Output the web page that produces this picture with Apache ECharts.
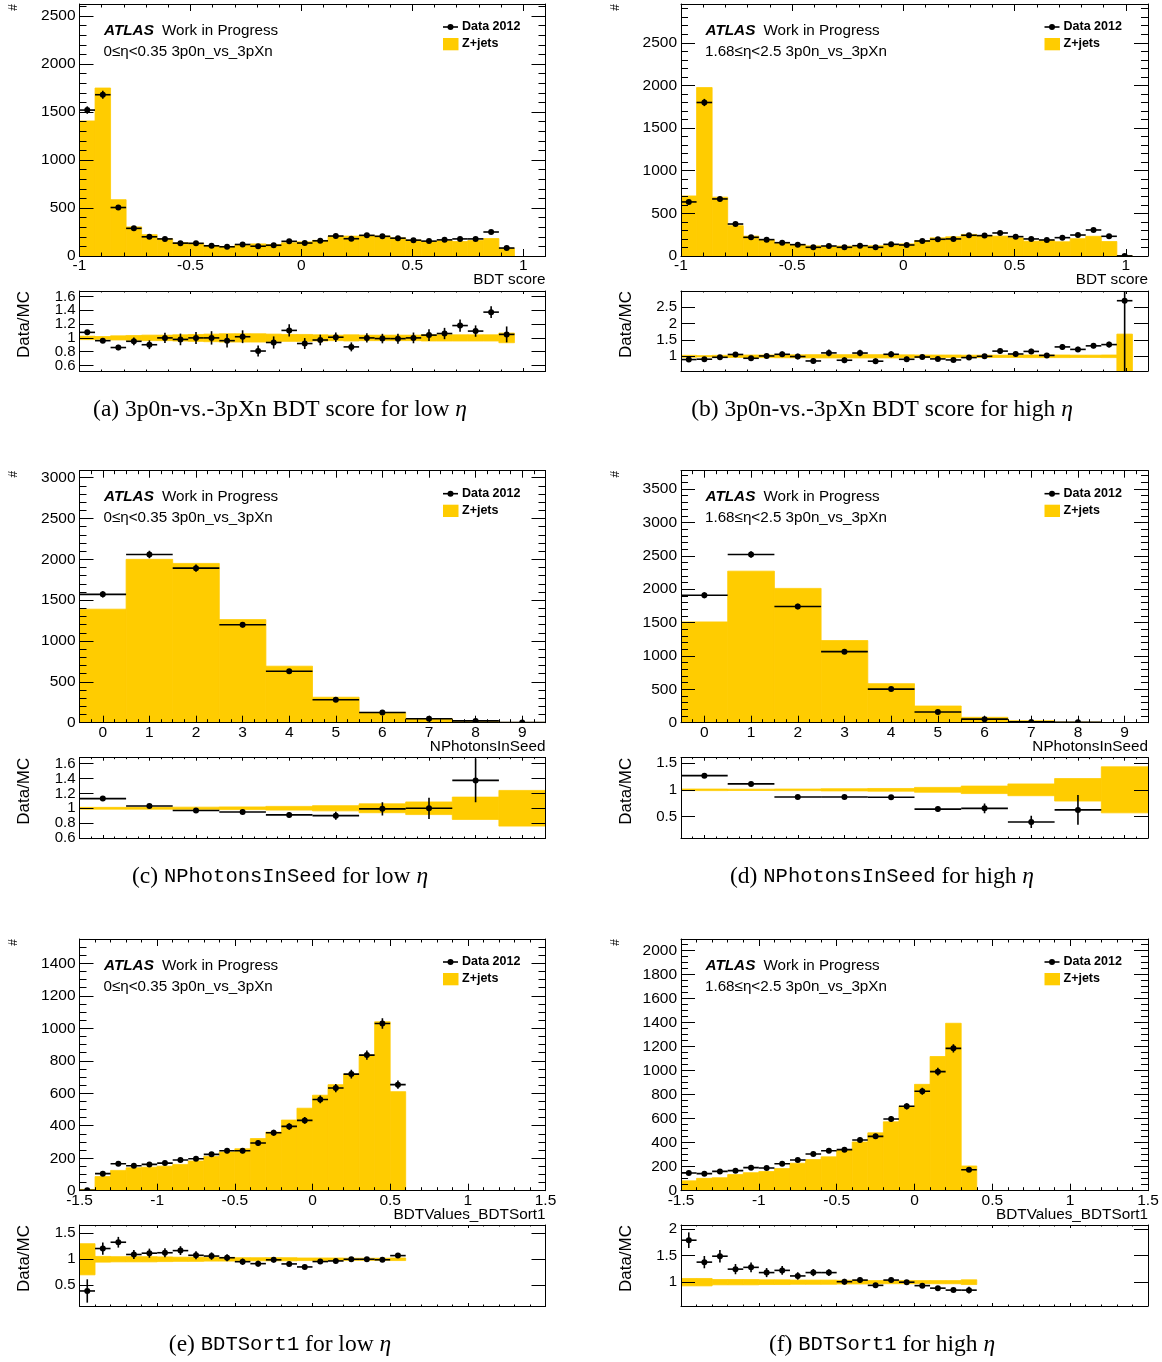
<!DOCTYPE html>
<html>
<head>
<meta charset="utf-8">
<script src="https://cdn.jsdelivr.net/npm/echarts@6/dist/echarts.min.js"></script>
<style>
  html, body { margin: 0; padding: 0; background: #fff; }
  #chart { width: 1162px; height: 1362px; }
</style>
</head>
<body>
<div id="chart"></div>
<script>
// ---------------------------------------------------------------------------
// Histogram contents (event counts per bin)
// ---------------------------------------------------------------------------

// (a) 3p0n-vs-3pXn BDT score, 0 <= eta < 0.35 : 30 bins of 0.07 from -1
const bdtLowData = [1520, 1680, 505, 288, 200, 178, 134, 132, 106, 96, 120, 102, 112, 153, 135,
                    158, 208, 180, 215, 205, 186, 165, 155, 168, 178, 178, 250, 83, 0, 0];
const bdtLowMC   = [1407, 1750, 587, 303, 222, 178, 137, 132, 106, 100, 118, 126, 120, 138, 147,
                    163, 206, 207, 215, 207, 188, 165, 149, 158, 151, 162, 182, 79, 0, 0];
const bdtLowMCRelErr = [0.025, 0.02, 0.03, 0.035, 0.04, 0.04, 0.045, 0.05, 0.055, 0.06, 0.06, 0.06, 0.055, 0.05, 0.05,
                        0.045, 0.04, 0.045, 0.04, 0.04, 0.04, 0.04, 0.045, 0.045, 0.045, 0.045, 0.045, 0.07, 0, 0];

// (b) 3p0n-vs-3pXn BDT score, 1.68 <= eta < 2.5
const bdtHighData = [634, 1800, 669, 375, 219, 192, 156, 133, 102, 117, 102, 121, 102, 137, 129,
                     176, 196, 200, 243, 239, 270, 227, 200, 188, 215, 246, 305, 231, 1, 0];
const bdtHighMC   = [704, 1975, 690, 355, 233, 190, 147, 134, 119, 106, 116, 110, 120, 129, 142,
                     180, 213, 225, 253, 239, 233, 212, 174, 183, 167, 203, 231, 170, 0.37, 0];
const bdtHighMCRelErr = [0.03, 0.02, 0.03, 0.035, 0.04, 0.04, 0.045, 0.045, 0.05, 0.05, 0.05, 0.05, 0.05, 0.05, 0.045,
                         0.04, 0.04, 0.04, 0.035, 0.035, 0.035, 0.035, 0.04, 0.04, 0.04, 0.035, 0.035, 0.04, 0.68, 0];

// (c) NPhotonsInSeed, low eta : integer bins 0..9
const nphLowData = [1571, 2060, 1892, 1199, 630, 281, 125, 49, 22, 1];
const nphLowMC   = [1390, 2000, 1950, 1262, 692, 312, 126, 49, 16, 4];
const nphLowMCRelErr = [0.012, 0.012, 0.015, 0.018, 0.025, 0.035, 0.06, 0.085, 0.15, 0.24];

// (d) NPhotonsInSeed, high eta
const nphHighData = [1909, 2520, 1740, 1064, 503, 160, 53, 12, 5, 0];
const nphHighMC   = [1510, 2270, 2012, 1230, 585, 250, 81, 30, 8, 2];
const nphHighMCRelErr = [0.015, 0.012, 0.015, 0.02, 0.025, 0.045, 0.07, 0.11, 0.21, 0.43];

// (e) BDTValues_BDTSort1, low eta : 30 bins of 0.1 from -1.5
const sortLowData = [3, 105, 166, 154, 162, 170, 189, 197, 224, 246, 246, 294, 357, 396, 433,
                     562, 632, 718, 835, 1030, 653, 0, 0, 0, 0, 0, 0, 0, 0, 0];
const sortLowMC   = [7.7, 87, 125, 141, 145, 151, 162, 183, 211, 239, 258, 321, 361, 435, 508,
                     588, 653, 718, 835, 1040, 610, 0, 0, 0, 0, 0, 0, 0, 0, 0];
const sortLowMCRelErr = [0.3, 0.055, 0.05, 0.05, 0.05, 0.045, 0.04, 0.04, 0.035, 0.035, 0.03, 0.03, 0.03, 0.03, 0.025,
                         0.025, 0.025, 0.02, 0.02, 0.02, 0.025, 0, 0, 0, 0, 0, 0, 0, 0, 0];

// (f) BDTValues_BDTSort1, high eta
const sortHighData = [147, 142, 161, 167, 192, 189, 225, 256, 306, 333, 342, 422, 453, 597, 703,
                      828, 992, 1186, 175, 0, 0, 0, 0, 0, 0, 0, 0, 0, 0, 0];
const sortHighMC   = [82, 103, 108, 134, 150, 160, 184, 229, 259, 282, 339, 406, 482, 574, 703,
                      886, 1118, 1395, 206, 0, 0, 0, 0, 0, 0, 0, 0, 0, 0, 0];
const sortHighMCRelErr = [0.07, 0.07, 0.05, 0.05, 0.05, 0.045, 0.045, 0.04, 0.04, 0.04, 0.035, 0.035, 0.03, 0.03, 0.03,
                          0.03, 0.03, 0.03, 0.045, 0, 0, 0, 0, 0, 0, 0, 0, 0, 0, 0];

// Text
const lowEtaLabel = '0\u2264\u03b7<0.35 3p0n_vs_3pXn';
const highEtaLabel = '1.68\u2264\u03b7<2.5 3p0n_vs_3pXn';
const legendData = 'Data 2012';
const legendMC = 'Z+jets';

// ---------------------------------------------------------------------------
// Styling / layout
// ---------------------------------------------------------------------------
const SANS = '"Liberation Sans", Arial, Helvetica, sans-serif';
const SERIF = '"Liberation Serif", "Times New Roman", serif';
const MONO = '"Liberation Mono", "DejaVu Sans Mono", monospace';
const YELLOW = '#ffcc00';

const colLeft = [79.5, 681];
const colWidth = [466, 467];
const mainTop = [4, 470.7, 939];
const mainHeight = [252, 252, 251.7];
const ratioTop = [291, 757.7, 1225];
const ratioHeight = [80, 80.3, 81];
const captionY = [410, 877, 1345];
const captionX = [280, 882];

const panels = [
  { row: 0, col: 0, binLow: -1, binWidth: 0.07, data: bdtLowData, mc: bdtLowMC, mcErr: bdtLowMCRelErr,
    x: { min: -1, max: 1.1, step: 0.5, minor: 5 }, y: { max: 2625, step: 500, minor: 5 },
    r: { min: 0.52, max: 1.68, step: 0.2 }, xTitle: 'BDT score', region: lowEtaLabel,
    caption: '(a) 3p0n-vs.-3pXn BDT score for low {i|\u03b7}' },
  { row: 0, col: 1, binLow: -1, binWidth: 0.07, data: bdtHighData, mc: bdtHighMC, mcErr: bdtHighMCRelErr,
    x: { min: -1, max: 1.1, step: 0.5, minor: 5 }, y: { max: 2955, step: 500, minor: 5 },
    r: { min: 0.55, max: 3.0, step: 0.5 }, xTitle: 'BDT score', region: highEtaLabel,
    caption: '(b) 3p0n-vs.-3pXn BDT score for high {i|\u03b7}' },
  { row: 1, col: 0, binLow: -0.5, binWidth: 1, data: nphLowData, mc: nphLowMC, mcErr: nphLowMCRelErr,
    x: { min: -0.5, max: 9.5, step: 1, minor: 4 }, y: { max: 3085, step: 500, minor: 5 },
    r: { min: 0.6, max: 1.68, step: 0.2 }, xTitle: 'NPhotonsInSeed', region: lowEtaLabel,
    caption: '(c) {m|NPhotonsInSeed} for low {i|\u03b7}' },
  { row: 1, col: 1, binLow: -0.5, binWidth: 1, data: nphHighData, mc: nphHighMC, mcErr: nphHighMCRelErr,
    x: { min: -0.5, max: 9.5, step: 1, minor: 4 }, y: { max: 3775, step: 500, minor: 5 },
    r: { min: 0.1, max: 1.6, step: 0.5 }, xTitle: 'NPhotonsInSeed', region: highEtaLabel,
    caption: '(d) {m|NPhotonsInSeed} for high {i|\u03b7}' },
  { row: 2, col: 0, binLow: -1.5, binWidth: 0.1, data: sortLowData, mc: sortLowMC, mcErr: sortLowMCRelErr,
    x: { min: -1.5, max: 1.5, step: 0.5, minor: 5 }, y: { max: 1550, step: 200, minor: 4 },
    r: { min: 0.1, max: 1.66, step: 0.5 }, xTitle: 'BDTValues_BDTSort1', region: lowEtaLabel,
    caption: '(e) {m|BDTSort1} for low {i|\u03b7}' },
  { row: 2, col: 1, binLow: -1.5, binWidth: 0.1, data: sortHighData, mc: sortHighMC, mcErr: sortHighMCRelErr,
    x: { min: -1.5, max: 1.5, step: 0.5, minor: 5 }, y: { max: 2097, step: 200, minor: 4 },
    r: { min: 0.55, max: 2.08, step: 0.5 }, xTitle: 'BDTValues_BDTSort1', region: highEtaLabel,
    caption: '(f) {m|BDTSort1} for high {i|\u03b7}' }
];

// ---------------------------------------------------------------------------
// Helpers
// ---------------------------------------------------------------------------
const r6 = v => Math.round(v * 1e6) / 1e6;
const fmt = v => String(r6(v));
const isMultiple = (v, s) => Math.abs(Math.round(v / s) * s - v) < 1e-9;
const LABEL_SIZE = 15.5;
const RATIO_LABEL_SIZE = 15;

function stepOpts(min, step) {
  // fixed tick spacing that stays aligned to multiples of the step
  return isMultiple(min, step) ? { interval: step } : { minInterval: step, maxInterval: step };
}

function xAxisPair(gridIndex, ax, showLabels, majorLen, minorLen) {
  const base = {
    type: 'value', gridIndex, min: ax.min, max: ax.max, z: 10,
    ...stepOpts(ax.min, ax.step),
    splitLine: { show: false },
    axisLine: { show: true, onZero: false, lineStyle: { color: '#000', width: 1 } },
    axisTick: { show: true, inside: true, length: majorLen, lineStyle: { color: '#000', width: 1 } },
    minorTick: { show: true, splitNumber: ax.minor, length: minorLen, lineStyle: { color: '#000', width: 1 } }
  };
  return [
    { ...base, position: 'bottom',
      axisLabel: { show: showLabels, margin: 2, fontSize: LABEL_SIZE, fontFamily: SANS, color: '#000',
                   hideOverlap: false, formatter: fmt,
                   showMinLabel: isMultiple(ax.min, ax.step), showMaxLabel: isMultiple(ax.max, ax.step) } },
    { ...base, position: 'top', axisLabel: { show: false } }
  ];
}

function yAxisPair(gridIndex, min, max, step, minor, majorLen, minorLen, labelSize) {
  const base = {
    type: 'value', gridIndex, min, max, z: 10,
    ...stepOpts(min, step),
    splitLine: { show: false },
    axisLine: { show: true, onZero: false, lineStyle: { color: '#000', width: 1 } },
    axisTick: { show: true, inside: true, length: majorLen, lineStyle: { color: '#000', width: 1 } },
    minorTick: { show: minor > 1, splitNumber: minor || 1, length: minorLen, lineStyle: { color: '#000', width: 1 } }
  };
  return [
    { ...base, position: 'left',
      axisLabel: { show: true, margin: 4, fontSize: labelSize, lineHeight: 11, fontFamily: SANS, color: '#000',
                   hideOverlap: false, formatter: fmt,
                   showMinLabel: isMultiple(min, step), showMaxLabel: false } },
    { ...base, position: 'right', axisLabel: { show: false } }
  ];
}

function binEdges(p, i) {
  const lo = p.binLow + i * p.binWidth;
  return [r6(lo), r6(lo + p.binWidth)];
}

// filled rectangle between two value corners; a same-colour outline closes the
// hairline gaps between neighbouring bins
function rectBetween(api, x0, y0, x1, y1) {
  const p0 = api.coord([x0, y0]);
  const p1 = api.coord([x1, y1]);
  return { type: 'rect', shape: { x: p0[0], y: p1[1], width: p1[0] - p0[0], height: p0[1] - p1[1] },
           style: { fill: YELLOW, stroke: YELLOW, lineWidth: 0.8 } };
}

function renderHist(params, api) {
  return rectBetween(api, api.value(0), 0, api.value(1), api.value(2));
}

function renderBand(params, api) {
  return rectBetween(api, api.value(0), api.value(2), api.value(1), api.value(3));
}

function renderPoint(params, api) {
  const lo = api.value(0), hi = api.value(1), v = api.value(2), e = api.value(3);
  const a = api.coord([lo, v]), b = api.coord([hi, v]);
  const mid = (lo + hi) / 2;
  const t = api.coord([mid, v + e]), d = api.coord([mid, v - e]);
  const line = { stroke: '#000', lineWidth: 1.6 };
  return { type: 'group', children: [
    { type: 'line', shape: { x1: a[0], y1: a[1], x2: b[0], y2: b[1] }, style: line },
    { type: 'line', shape: { x1: t[0], y1: t[1], x2: d[0], y2: d[1] }, style: line },
    { type: 'circle', shape: { cx: (a[0] + b[0]) / 2, cy: a[1], r: 3 }, style: { fill: '#000' } }
  ] };
}

// ---------------------------------------------------------------------------
// Build option
// ---------------------------------------------------------------------------
const grid = [], xAxis = [], yAxis = [], series = [], graphic = [];

panels.forEach((p) => {
  const L = colLeft[p.col], W = colWidth[p.col];
  const T = mainTop[p.row], H = mainHeight[p.row];
  const RT = ratioTop[p.row], RH = ratioHeight[p.row];
  const gMain = grid.length;
  grid.push({ left: L, top: T, width: W, height: H });
  const gRatio = grid.length;
  grid.push({ left: L, top: RT, width: W, height: RH });

  const xMain = xAxis.length;
  xAxis.push(...xAxisPair(gMain, p.x, true, 7, 3.5));
  const xRatio = xAxis.length;
  xAxis.push(...xAxisPair(gRatio, p.x, false, 3, 1.5));

  const yMain = yAxis.length;
  yAxis.push(...yAxisPair(gMain, 0, p.y.max, p.y.step, p.y.minor, 14, 7, LABEL_SIZE));
  const yRatio = yAxis.length;
  yAxis.push(...yAxisPair(gRatio, p.r.min, p.r.max, p.r.step, 0, 14, 7, RATIO_LABEL_SIZE));

  const histRows = [], dataRows = [], bandRows = [], ratioRows = [];
  p.mc.forEach((m, i) => {
    const [lo, hi] = binEdges(p, i);
    const d = p.data[i];
    if (m > 0) {
      histRows.push([lo, hi, m]);
      bandRows.push([lo, hi, 1 - p.mcErr[i], 1 + p.mcErr[i]]);
    }
    if (d > 0) {
      dataRows.push([lo, hi, d, Math.sqrt(d)]);
      if (m > 0) ratioRows.push([lo, hi, d / m, Math.sqrt(d) / m]);
    }
  });

  series.push(
    { type: 'custom', name: legendMC, xAxisIndex: xMain, yAxisIndex: yMain, clip: true, z: 1,
      renderItem: renderHist, data: histRows, encode: { x: [0, 1], y: 2 } },
    { type: 'custom', name: legendData, xAxisIndex: xMain, yAxisIndex: yMain, clip: true, z: 3,
      renderItem: renderPoint, data: dataRows, encode: { x: [0, 1], y: 2 } },
    { type: 'custom', name: 'MC stat.', xAxisIndex: xRatio, yAxisIndex: yRatio, clip: true, z: 1,
      renderItem: renderBand, data: bandRows, encode: { x: [0, 1], y: [2, 3] } },
    { type: 'custom', name: 'Data/MC', xAxisIndex: xRatio, yAxisIndex: yRatio, clip: true, z: 3,
      renderItem: renderPoint, data: ratioRows, encode: { x: [0, 1], y: 2 } }
  );

  // ATLAS label and selection text
  graphic.push(
    { type: 'text', x: L + 24.5, y: T + 26.5, silent: true,
      style: { text: 'ATLAS', fontFamily: SANS, fontSize: 15.3, fontWeight: 'bold', fontStyle: 'italic',
               fill: '#000', verticalAlign: 'middle' } },
    { type: 'text', x: L + 82.5, y: T + 26.5, silent: true,
      style: { text: 'Work in Progress', fontFamily: SANS, fontSize: 15.2, fill: '#000', verticalAlign: 'middle' } },
    { type: 'text', x: L + 24, y: T + 47.5, silent: true,
      style: { text: p.region, fontFamily: SANS, fontSize: 15.2, fill: '#000', verticalAlign: 'middle' } }
  );

  // legend
  const lx = L + 363.5;
  graphic.push(
    { type: 'line', silent: true, shape: { x1: lx, y1: T + 23, x2: lx + 15, y2: T + 23 },
      style: { stroke: '#000', lineWidth: 1.6 } },
    { type: 'circle', silent: true, shape: { cx: lx + 7.5, cy: T + 23, r: 3 }, style: { fill: '#000' } },
    { type: 'text', x: lx + 19, y: T + 23, silent: true,
      style: { text: legendData, fontFamily: SANS, fontSize: 12.5, fontWeight: 'bold', fill: '#000', verticalAlign: 'middle' } },
    { type: 'rect', silent: true, shape: { x: lx, y: T + 34, width: 15.5, height: 12.3 }, style: { fill: YELLOW } },
    { type: 'text', x: lx + 19, y: T + 39.5, silent: true,
      style: { text: legendMC, fontFamily: SANS, fontSize: 12.5, fontWeight: 'bold', fill: '#000', verticalAlign: 'middle' } }
  );

  // axis titles
  graphic.push(
    { type: 'text', x: L + W, y: T + H + 24, silent: true,
      style: { text: p.xTitle, fontFamily: SANS, fontSize: 15.3, fill: '#000', align: 'right', verticalAlign: 'middle' } },
    { type: 'text', x: L - 65.5, y: T + 3.5, rotation: Math.PI / 2, silent: true,
      style: { text: '#', fontFamily: SANS, fontSize: 12, fill: '#000', align: 'center', verticalAlign: 'middle' } },
    { type: 'text', x: L - 55, y: RT, rotation: Math.PI / 2, silent: true,
      style: { text: 'Data/MC', fontFamily: SANS, fontSize: 17, fill: '#000', align: 'right', verticalAlign: 'middle' } }
  );

  // sub-figure caption
  graphic.push(
    { type: 'text', x: captionX[p.col], y: captionY[p.row], silent: true,
      style: { text: p.caption, fontFamily: SERIF, fontSize: 23.5, fill: '#000', align: 'center', verticalAlign: 'middle',
               rich: { i: { fontFamily: SERIF, fontSize: 23.5, fontStyle: 'italic', fill: '#000' },
                       m: { fontFamily: MONO, fontSize: 20.5, fill: '#000' } } } }
  );
});

const chart = echarts.init(document.getElementById('chart'), null, { renderer: 'canvas' });
chart.setOption({
  animation: false,
  backgroundColor: '#fff',
  grid, xAxis, yAxis, series, graphic
});
</script>
</body>
</html>
